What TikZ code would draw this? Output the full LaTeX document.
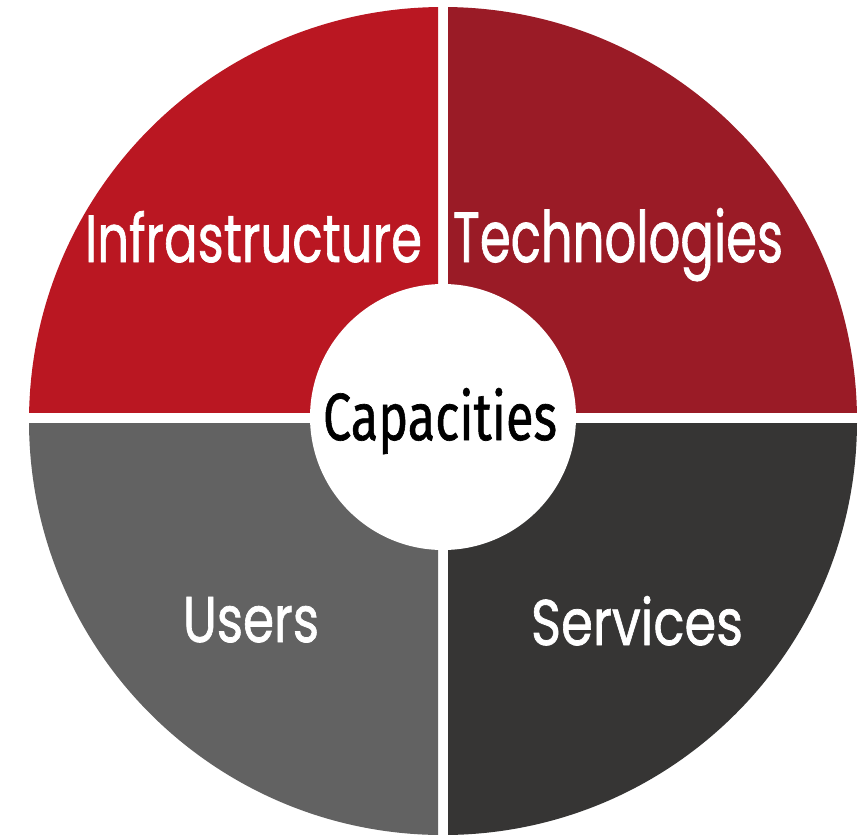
\documentclass[tikz,border=0pt]{standalone}
\usepackage{fontspec}
\usepackage{graphicx}
\setmainfont{Poppins}
\newfontfamily\lblfont{Poppins}[FakeBold=1.2]
\newfontfamily\capfont{Fira Sans}[FakeBold=1.0]
\definecolor{qTL}{RGB}{186,23,34}
\definecolor{qTR}{RGB}{154,27,38}
\definecolor{qBL}{RGB}{98,98,98}
\definecolor{qBR}{RGB}{54,53,52}
\begin{document}
\begin{tikzpicture}[x=1pt,y=-1pt,
  lbl/.style={text=white, inner sep=0pt, anchor=base, font=\lblfont}]
\useasboundingbox (0,0) rectangle (866,835);
\fill[white] (0,0) rectangle (866,835);
\begin{scope}
  \clip (0,0) rectangle (438,412);
  \fill[qTL] (443,421) circle[radius=414pt];
\end{scope}
\begin{scope}
  \clip (448,0) rectangle (866,412);
  \fill[qTR] (443,421) circle[radius=414pt];
\end{scope}
\begin{scope}
  \clip (0,423) rectangle (438,835);
  \fill[qBL] (443,421) circle[radius=414pt];
\end{scope}
\begin{scope}
  \clip (448,423) rectangle (866,835);
  \fill[qBR] (443,421) circle[radius=414pt];
\end{scope}
\node[circle, fill=white, minimum size=266pt, inner sep=0pt] (core) at (443,417) {};
\node[inner sep=0pt, anchor=base, text=black, font=\capfont] (cap) at (440,440) {\resizebox{234pt}{52pt}{Capacities}};
\node[lbl] (infra) at (253.5,262) {\resizebox{337pt}{51pt}{Infrastructure}};
\node[lbl] (tech) at (618,262) {\resizebox{330pt}{54pt}{Technologies}};
\node[lbl] (users) at (251,642) {\resizebox{136pt}{45pt}{Users}};
\node[lbl] (serv) at (637,645) {\resizebox{212pt}{49pt}{Services}};
\end{tikzpicture}
\end{document}
